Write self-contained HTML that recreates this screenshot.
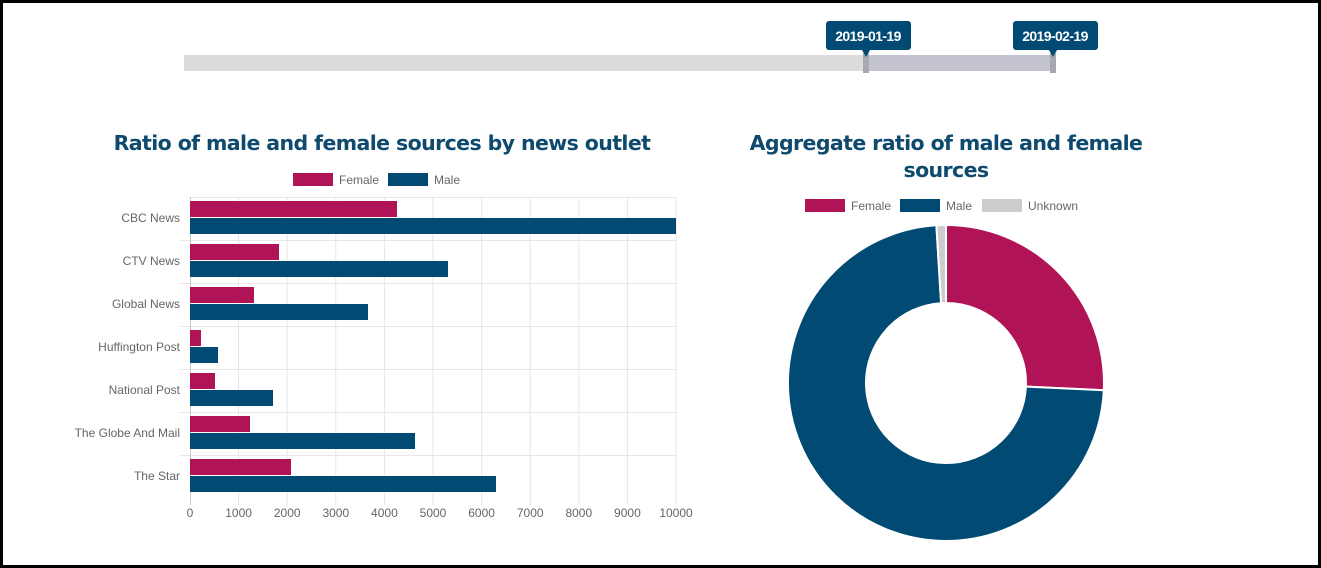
<!DOCTYPE html>
<html><head><meta charset="utf-8"><style>
html,body{margin:0;padding:0;background:#fff}
body{width:1321px;height:568px;overflow:hidden;position:relative;font-family:"Liberation Sans",Arial,sans-serif}
.frame{position:absolute;left:0;top:0;width:1315px;height:562px;border:3px solid #000}
</style></head><body>
<div class="frame"></div>
<svg width="1321" height="568" style="position:absolute;left:0;top:0" font-family="Liberation Sans, Arial, sans-serif">
<rect x="184" y="55" width="871" height="16" fill="#dcdcdc"/>
<rect x="866" y="55" width="187" height="16" fill="#c4c4d0"/>
<rect x="863" y="53" width="6" height="20" fill="#a8a8b0"/>
<rect x="1050" y="53" width="6" height="20" fill="#a8a8b0"/>
<rect x="826" y="21" width="85" height="29" rx="3" fill="#004a73"/>
<polygon points="862,50 870,50 866,57" fill="#004a73"/>
<text x="868" y="41" font-size="14" font-weight="bold" fill="#fff" text-anchor="middle" letter-spacing="-0.6">2019-01-19</text>
<rect x="1013" y="21" width="85" height="29" rx="3" fill="#004a73"/>
<polygon points="1049,50 1057,50 1053,57" fill="#004a73"/>
<text x="1055" y="41" font-size="14" font-weight="bold" fill="#fff" text-anchor="middle" letter-spacing="-0.6">2019-02-19</text>

<text x="382" y="150" font-size="20.5" font-weight="bold" fill="#0e4a6e" text-anchor="middle" font-family="DejaVu Sans, sans-serif" letter-spacing="-0.6">Ratio of male and female sources by news outlet</text>
<rect x="293" y="173" width="40" height="13" fill="#b01356"/>
<text x="339" y="184" font-size="12" fill="#666">Female</text>
<rect x="388" y="173" width="40" height="13" fill="#004a73"/>
<text x="434" y="184" font-size="12" fill="#666">Male</text>

<g stroke="#e6e6e6" stroke-width="1">
<line x1="190" y1="197.5" x2="676" y2="197.5"/>
<line x1="180" y1="240.5" x2="676" y2="240.5"/>
<line x1="180" y1="283.5" x2="676" y2="283.5"/>
<line x1="180" y1="326.5" x2="676" y2="326.5"/>
<line x1="180" y1="369.5" x2="676" y2="369.5"/>
<line x1="180" y1="412.5" x2="676" y2="412.5"/>
<line x1="180" y1="455.5" x2="676" y2="455.5"/>
<line x1="238.6" y1="197" x2="238.6" y2="505"/>
<line x1="287.2" y1="197" x2="287.2" y2="505"/>
<line x1="335.8" y1="197" x2="335.8" y2="505"/>
<line x1="384.4" y1="197" x2="384.4" y2="505"/>
<line x1="433" y1="197" x2="433" y2="505"/>
<line x1="481.6" y1="197" x2="481.6" y2="505"/>
<line x1="530.2" y1="197" x2="530.2" y2="505"/>
<line x1="578.8" y1="197" x2="578.8" y2="505"/>
<line x1="627.4" y1="197" x2="627.4" y2="505"/>
<line x1="676" y1="197" x2="676" y2="505"/>
</g>
<line x1="190.5" y1="197" x2="190.5" y2="505" stroke="#ccc"/>
<g>
<rect x="190" y="201" width="207" height="16" fill="#b01356"/><rect x="190" y="218" width="486" height="16" fill="#004a73"/>
<rect x="190" y="244" width="89" height="16" fill="#b01356"/><rect x="190" y="261" width="258" height="16" fill="#004a73"/>
<rect x="190" y="287" width="64" height="16" fill="#b01356"/><rect x="190" y="304" width="178" height="16" fill="#004a73"/>
<rect x="190" y="330" width="11" height="16" fill="#b01356"/><rect x="190" y="347" width="28" height="16" fill="#004a73"/>
<rect x="190" y="373" width="25" height="16" fill="#b01356"/><rect x="190" y="390" width="83" height="16" fill="#004a73"/>
<rect x="190" y="416" width="60" height="16" fill="#b01356"/><rect x="190" y="433" width="225" height="16" fill="#004a73"/>
<rect x="190" y="459" width="101" height="16" fill="#b01356"/><rect x="190" y="476" width="306" height="16" fill="#004a73"/>
</g>
<g font-size="12" fill="#666" text-anchor="end">
<text x="180" y="222">CBC News</text>
<text x="180" y="265">CTV News</text>
<text x="180" y="308">Global News</text>
<text x="180" y="351">Huffington Post</text>
<text x="180" y="394">National Post</text>
<text x="180" y="437">The Globe And Mail</text>
<text x="180" y="480">The Star</text>
</g>
<g font-size="12" fill="#666" text-anchor="middle">
<text x="190" y="517">0</text><text x="238.6" y="517">1000</text><text x="287.2" y="517">2000</text>
<text x="335.8" y="517">3000</text><text x="384.4" y="517">4000</text><text x="433" y="517">5000</text>
<text x="481.6" y="517">6000</text><text x="530.2" y="517">7000</text><text x="578.8" y="517">8000</text>
<text x="627.4" y="517">9000</text><text x="676" y="517">10000</text>
</g>

<g font-family="DejaVu Sans, sans-serif" font-size="20.5" font-weight="bold" fill="#0e4a6e" text-anchor="middle" letter-spacing="-0.6">
<text x="946" y="150">Aggregate ratio of male and female</text>
<text x="946" y="177">sources</text>
</g>
<rect x="805" y="199" width="40" height="13" fill="#b01356"/>
<text x="851" y="210" font-size="12" fill="#666">Female</text>
<rect x="900" y="199" width="40" height="13" fill="#004a73"/>
<text x="946" y="210" font-size="12" fill="#666">Male</text>
<rect x="982" y="199" width="40" height="13" fill="#cccccc"/>
<text x="1028" y="210" font-size="12" fill="#666">Unknown</text>

<g stroke="#fff" stroke-width="2">
<path d="M946,225 A158,158 0 0 1 1103.8,390.2 L1025.9,386.6 A80,80 0 0 0 946,303 Z" fill="#b01356"/>
<path d="M1103.8,390.2 A158,158 0 1 1 936.4,225.3 L941.1,303.2 A80,80 0 1 0 1025.9,386.6 Z" fill="#004a73"/>
<path d="M936.4,225.3 A158,158 0 0 1 946,225 L946,303 A80,80 0 0 0 941.1,303.2 Z" fill="#cccccc"/>
</g>
</svg>
</body></html>
